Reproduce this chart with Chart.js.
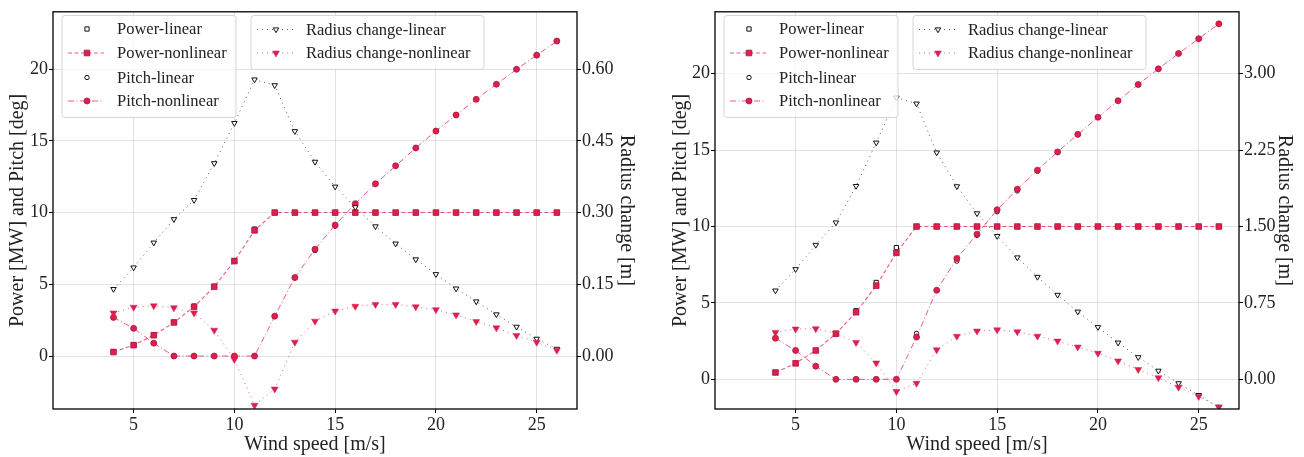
<!DOCTYPE html>
<html>
<head>
<meta charset="utf-8">
<script src="https://cdn.jsdelivr.net/npm/chart.js@4.4.1/dist/chart.umd.min.js"></script>
<style>
  html, body { margin: 0; padding: 0; background: #fff; }
  .panel { position: absolute; top: 0; width: 652px; height: 457px; }
  #panelA { left: 0; }
  #panelB { left: 652px; }
</style>
</head>
<body>
<div class="panel" id="panelA"><canvas id="chartA" width="652" height="457"></canvas></div>
<div class="panel" id="panelB"><canvas id="chartB" width="652" height="457"></canvas></div>
<script>
// wind speeds shared by both panels
const windSpeed = [4, 5, 6, 7, 8, 9, 10, 11, 12, 13, 14, 15, 16, 17, 18, 19, 20, 21, 22, 23, 24, 25, 26];
const xTicks = [5, 10, 15, 20, 25];
const leftTicks = [0, 5, 10, 15, 20];

// left panel
const powerLinA = [0.3, 0.78, 1.47, 2.36, 3.48, 4.86, 6.65, 8.85, 10, 10, 10, 10, 10, 10, 10, 10, 10, 10, 10, 10, 10, 10, 10];
const powerNonA = [0.28, 0.76, 1.45, 2.34, 3.43, 4.83, 6.62, 8.76, 10, 10, 10, 10, 10, 10, 10, 10, 10, 10, 10, 10, 10, 10, 10];
const pitchLinA = [2.69, 1.93, 0.9, 0, 0, 0, 0, 0, 2.78, 5.45, 7.35, 9.05, 10.55, 12.0, 13.26, 14.5, 15.68, 16.8, 17.89, 18.94, 19.98, 20.97, 21.95];
const pitchNonA = [2.69, 1.93, 0.9, 0, 0, 0, 0, 0, 2.78, 5.47, 7.45, 9.13, 10.62, 12.0, 13.26, 14.5, 15.68, 16.8, 17.89, 18.94, 19.98, 20.97, 21.95];
const radiusLinA = [0.14, 0.185, 0.237, 0.286, 0.326, 0.403, 0.487, 0.578, 0.566, 0.47, 0.406, 0.354, 0.311, 0.271, 0.235, 0.202, 0.171, 0.141, 0.114, 0.087, 0.061, 0.036, 0.015];
const radiusNonA = [0.09, 0.102, 0.105, 0.101, 0.09, 0.054, -0.007, -0.103, -0.069, 0.029, 0.073, 0.094, 0.104, 0.108, 0.108, 0.103, 0.097, 0.086, 0.072, 0.059, 0.043, 0.029, 0.012];
const rightTicksA = [0, 0.15, 0.3, 0.45, 0.6];

// right panel
const powerLinB = [0.45, 1.05, 1.89, 2.99, 4.49, 6.34, 8.62, 10, 10, 10, 10, 10, 10, 10, 10, 10, 10, 10, 10, 10, 10, 10, 10];
const powerNonB = [0.45, 1.05, 1.89, 2.99, 4.39, 6.13, 8.28, 10, 10, 10, 10, 10, 10, 10, 10, 10, 10, 10, 10, 10, 10, 10, 10];
const pitchLinB = [2.69, 1.89, 0.86, 0, 0, 0, 0, 3.01, 5.83, 7.74, 9.42, 10.97, 12.33, 13.62, 14.85, 16.0, 17.15, 18.23, 19.29, 20.32, 21.32, 22.29, 23.26];
const pitchNonB = [2.69, 1.89, 0.86, 0, 0, 0, 0, 2.77, 5.83, 7.91, 9.5, 11.1, 12.44, 13.69, 14.88, 16.03, 17.15, 18.23, 19.29, 20.32, 21.32, 22.29, 23.26];
const radiusLinB = [0.871, 1.081, 1.319, 1.539, 1.897, 2.323, 2.765, 2.706, 2.226, 1.894, 1.629, 1.406, 1.196, 1.005, 0.829, 0.664, 0.512, 0.36, 0.217, 0.084, -0.039, -0.155, -0.27];
const radiusNonB = [0.461, 0.494, 0.497, 0.452, 0.361, 0.161, -0.119, -0.039, 0.29, 0.423, 0.474, 0.486, 0.467, 0.424, 0.376, 0.317, 0.256, 0.181, 0.097, 0.016, -0.078, -0.168, -0.272];
const rightTicksB = [0, 0.75, 1.5, 2.25, 3.0];

const legendCol1 = ["Power-linear", "Power-nonlinear", "Pitch-linear", "Pitch-nonlinear"];
const legendCol2 = ["Radius change-linear", "Radius change-nonlinear"];

const RED = "#dc1f4f";
const RED_EDGE = "#b3173e";
const RED_LINE = "rgba(228, 40, 90, 0.75)";
const FONT = "'Liberation Serif', 'DejaVu Serif', serif";

function pts(ys) {
  return windSpeed.map((x, i) => ({ x: x, y: ys[i] }));
}

function makeDatasets(p) {
  return [
    { label: "Power-linear", data: pts(p.powerLin), yAxisID: "y", showLine: false,
      pointStyle: "rect", pointRadius: 3, borderColor: "#111", backgroundColor: "#fff",
      pointBorderWidth: 1, order: 5 },
    { label: "Power-nonlinear", data: pts(p.powerNon), yAxisID: "y",
      borderColor: RED_LINE, borderWidth: 1.1, borderDash: [4, 2.5],
      pointStyle: "rect", pointRadius: 4, pointBorderColor: RED_EDGE, pointBackgroundColor: RED,
      pointBorderWidth: 0.8, order: 4 },
    { label: "Pitch-linear", data: pts(p.pitchLin), yAxisID: "y", showLine: false,
      pointStyle: "circle", pointRadius: 2.2, borderColor: "#111", backgroundColor: "#fff",
      pointBorderWidth: 1, order: 3 },
    { label: "Pitch-nonlinear", data: pts(p.pitchNon), yAxisID: "y",
      borderColor: RED_LINE, borderWidth: 1, borderDash: [6, 2.5, 1, 2.5],
      pointStyle: "circle", pointRadius: 3, pointBorderColor: RED_EDGE, pointBackgroundColor: RED,
      pointBorderWidth: 0.8, order: 2 },
    { label: "Radius change-linear", data: pts(p.radiusLin), yAxisID: "y1",
      borderColor: "rgba(40, 40, 40, 0.75)", borderWidth: 1, borderDash: [1, 4],
      pointStyle: "triangle", pointRotation: 180, pointRadius: 3.2,
      pointBorderColor: "#111", pointBackgroundColor: "#fff", pointBorderWidth: 1, order: 1 },
    { label: "Radius change-nonlinear", data: pts(p.radiusNon), yAxisID: "y1",
      borderColor: RED_LINE, borderWidth: 1, borderDash: [1, 4],
      pointStyle: "triangle", pointRotation: 180, pointRadius: 4,
      pointBorderColor: RED, pointBackgroundColor: RED, pointBorderWidth: 0.5, order: 0 },
  ];
}

// legend sample: short line plus marker
function drawSample(ctx, ds, cx, cy, x0, x1) {
  if (ds.showLine !== false) {
    ctx.save();
    ctx.strokeStyle = ds.borderColor;
    ctx.lineWidth = ds.borderWidth;
    ctx.setLineDash(ds.borderDash || []);
    ctx.beginPath();
    ctx.moveTo(x0, cy);
    ctx.lineTo(x1, cy);
    ctx.stroke();
    ctx.restore();
  }
  ctx.save();
  ctx.setLineDash([]);
  ctx.fillStyle = ds.pointBackgroundColor || ds.backgroundColor;
  ctx.strokeStyle = ds.pointBorderColor || ds.borderColor;
  ctx.lineWidth = ds.pointBorderWidth;
  Chart.helpers.drawPoint(ctx, {
    pointStyle: ds.pointStyle, rotation: ds.pointRotation || 0,
    radius: ds.pointRadius, borderWidth: ds.pointBorderWidth,
  }, cx, cy);
  ctx.restore();
}

function drawLegendBox(chart, labels, left, top, width, height, rowYs) {
  const ctx = chart.ctx;
  ctx.save();
  ctx.fillStyle = "rgba(255,255,255,0.8)";
  ctx.strokeStyle = "#d6d6d6";
  ctx.lineWidth = 1;
  ctx.beginPath();
  ctx.roundRect(left, top, width, height, 3);
  ctx.fill();
  ctx.stroke();
  ctx.font = "16.5px " + FONT;
  ctx.fillStyle = "#222";
  ctx.textBaseline = "middle";
  labels.forEach((lab, i) => {
    const ds = chart.data.datasets.find((d) => d.label === lab);
    const y = top + rowYs[i];
    drawSample(ctx, ds, left + 25, y, left + 6, left + 42);
    ctx.fillStyle = "#222";
    ctx.fillText(lab, left + 55, y + 1);
  });
  ctx.restore();
}

const frameAndLegend = {
  id: "frameAndLegend",
  afterDatasetsDraw(chart) {
    const ca = chart.chartArea;
    drawLegendBox(chart, legendCol1, ca.left + 9, 15.5, 174, 102, [13.5, 37.5, 62, 85.5]);
    drawLegendBox(chart, legendCol2, ca.left + 198, 15.5, 233, 54, [14, 37.5]);
  },
  afterDraw(chart) {
    const ca = chart.chartArea;
    const ctx = chart.ctx;
    ctx.save();
    ctx.strokeStyle = "#000";
    ctx.lineWidth = 1.3;
    ctx.strokeRect(ca.left, ca.top, ca.right - ca.left, ca.bottom - ca.top);
    ctx.restore();
  },
};

function fixedTicks(values) {
  return (scale) => { scale.ticks = values.map((v) => ({ value: v })); };
}

function buildPanel(canvasId, p) {
  const tickFont = { family: FONT, size: 18 };
  const titleFont = { family: FONT, size: 20 };
  const grid = { color: "rgba(0,0,0,0.11)", lineWidth: 1, tickColor: "#000", tickLength: 4, tickWidth: 1 };
  const ctx = document.getElementById(canvasId).getContext("2d");
  return new Chart(ctx, {
    type: "line",
    data: { datasets: makeDatasets(p) },
    options: {
      responsive: false,
      animation: false,
      layout: { padding: { top: 7 } },
      elements: { line: { tension: 0, fill: false } },
      plugins: { legend: { display: false }, tooltip: { enabled: false } },
      scales: {
        x: {
          type: "linear", min: 1, max: 27,
          afterBuildTicks: fixedTicks(xTicks),
          afterFit: (s) => { s.height = 48; },
          grid: grid, border: { display: false },
          ticks: { font: tickFont, color: "#222", padding: 1, maxRotation: 0, callback: (v) => String(v) },
          title: { display: true, text: "Wind speed [m/s]", font: titleFont, color: "#222", padding: { top: 5, bottom: 0 } },
        },
        y: {
          position: "left", min: p.yMin, max: p.yMax,
          afterBuildTicks: fixedTicks(leftTicks),
          afterFit: (s) => { s.width = p.leftWidth; },
          grid: grid, border: { display: false },
          ticks: { font: tickFont, color: "#222", padding: 1, callback: (v) => String(v) },
          title: { display: true, text: "Power [MW] and Pitch [deg]", font: titleFont, color: "#222", padding: { top: p.leftTitlePad, bottom: 0 } },
        },
        y1: {
          position: "right", min: p.y1Min, max: p.y1Max,
          afterBuildTicks: fixedTicks(p.rightTicks),
          afterFit: (s) => { s.width = p.rightWidth; },
          grid: { drawOnChartArea: false, tickColor: "#000", tickLength: 4, tickWidth: 1 },
          border: { display: false },
          ticks: { font: tickFont, color: "#222", padding: 1, callback: (v) => v.toFixed(2) },
          title: { display: true, text: "Radius change [m]", font: titleFont, color: "#222", padding: { top: p.rightTitlePad, bottom: 0 } },
        },
      },
    },
    plugins: [frameAndLegend],
  });
}

buildPanel("chartA", {
  powerLin: powerLinA, powerNon: powerNonA, pitchLin: pitchLinA, pitchNon: pitchNonA,
  radiusLin: radiusLinA, radiusNon: radiusNonA, rightTicks: rightTicksA,
  yMin: -3.69, yMax: 23.99, y1Min: -0.1107, y1Max: 0.7197,
  leftWidth: 53, rightWidth: 75, leftTitlePad: 6, rightTitlePad: 14,
});

buildPanel("chartB", {
  powerLin: powerLinB, powerNon: powerNonB, pitchLin: pitchLinB, pitchNon: pitchNonB,
  radiusLin: radiusLinB, radiusNon: radiusNonB, rightTicks: rightTicksB,
  yMin: -1.94, yMax: 24.05, y1Min: -0.291, y1Max: 3.6075,
  leftWidth: 63, rightWidth: 65, leftTitlePad: 17, rightTitlePad: 8,
});
</script>
</body>
</html>
